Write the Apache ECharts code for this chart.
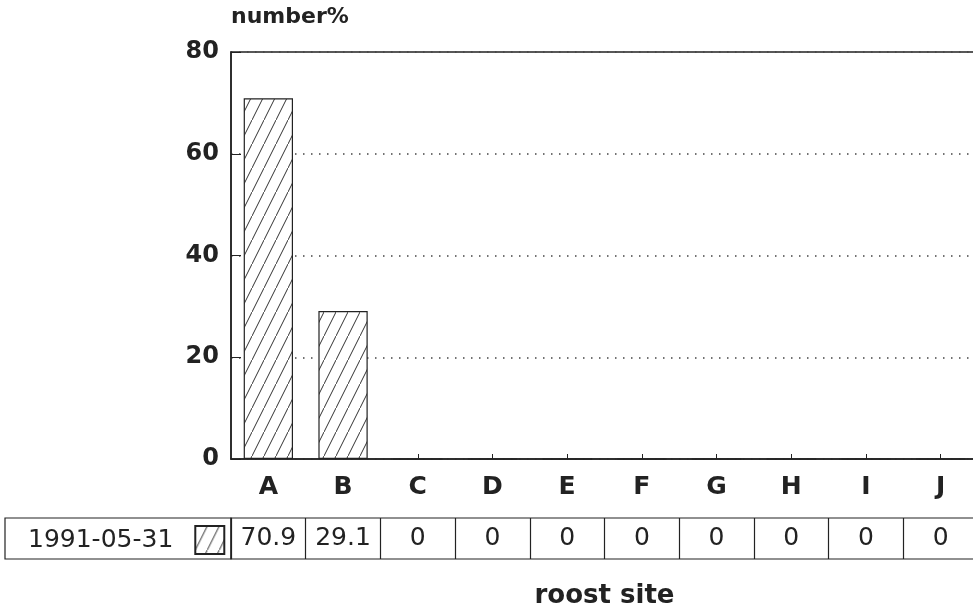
<!DOCTYPE html>
<html>
<head>
<meta charset="utf-8">
<script src="https://cdn.jsdelivr.net/npm/echarts@6/dist/echarts.min.js"></script>
<style>
  html, body { margin: 0; padding: 0; background: #fff; }
  #chart { width: 973px; height: 613px; }
</style>
</head>
<body>
<div id="chart"></div>
<script>
// data
const categories = ['A', 'B', 'C', 'D', 'E', 'F', 'G', 'H', 'I', 'J'];
const seriesName = '1991-05-31';
const values = [70.9, 29.1, 0, 0, 0, 0, 0, 0, 0, 0];
const yTicks = [0, 20, 40, 60, 80];

const ink = '#222';
const font = 'DejaVu Sans';

// diagonal hatch used for bars and legend icon
const makeHatch = () => {
  const c = document.createElement('canvas');
  c.width = 12;
  c.height = 24;
  const ctx = c.getContext('2d');
  ctx.fillStyle = '#fff';
  ctx.fillRect(0, 0, 12, 24);
  ctx.strokeStyle = '#333';
  ctx.lineWidth = 1;
  ctx.beginPath();
  ctx.moveTo(-3, 30);
  ctx.lineTo(15, -6);
  ctx.stroke();
  return c;
};
const hatch = { image: makeHatch(), repeat: 'repeat' };

const chart = echarts.init(document.getElementById('chart'), null, { renderer: 'canvas' });

chart.setOption({
  backgroundColor: '#fff',
  animation: false,
  legend: {
    data: [{ name: seriesName, icon: 'rect' }],
    left: 23,
    top: 520,
    align: 'right',
    itemWidth: 29,
    itemHeight: 28,
    textStyle: { fontFamily: font, fontSize: 25, color: ink, padding: [0, 17, 0, 0] },
  },
  grid: [
    { left: 231, top: 52, width: 747, height: 407, show: true, borderColor: ink, borderWidth: 1.5, outerBoundsMode: 'none', containLabel: false },
    { left: 231, top: 518, width: 747, height: 41, show: true, borderColor: ink, borderWidth: 1.2, outerBoundsMode: 'none', containLabel: false },
  ],
  xAxis: [
    {
      type: 'category',
      gridIndex: 0,
      data: categories,
      axisLine: { lineStyle: { color: ink, width: 1.5 } },
      axisTick: { show: true, alignWithLabel: true, inside: true, length: 5, lineStyle: { color: ink } },
      axisLabel: { fontFamily: font, fontWeight: 'bold', fontSize: 25, color: ink, margin: 16 },
      name: 'roost site',
      nameLocation: 'middle',
      nameGap: 124,
      nameTextStyle: { fontFamily: font, fontWeight: 'bold', fontSize: 26, color: ink },
    },
    {
      type: 'category',
      gridIndex: 1,
      data: categories,
      axisLine: { show: false },
      axisTick: { show: false },
      axisLabel: { show: false },
      splitLine: { show: true, lineStyle: { color: ink, width: 1.2 } },
    },
  ],
  yAxis: [
    {
      type: 'value',
      gridIndex: 0,
      min: yTicks[0],
      max: yTicks[yTicks.length - 1],
      interval: yTicks[1] - yTicks[0],
      axisLine: { show: true, lineStyle: { color: ink, width: 1.5 } },
      axisTick: { show: true, inside: true, length: 10, lineStyle: { color: ink } },
      axisLabel: { fontFamily: font, fontWeight: 'bold', fontSize: 24, color: ink, margin: 12 },
      splitLine: { show: true, lineStyle: { color: '#444', width: 1.5, type: [1.5, 6.5] } },
      name: 'number%',
      nameLocation: 'end',
      nameGap: 24,
      nameTextStyle: { fontFamily: font, fontWeight: 'bold', fontSize: 22, color: ink, align: 'left' },
    },
    {
      type: 'value',
      gridIndex: 1,
      min: 0,
      max: 1,
      show: false,
    },
  ],
  series: [
    {
      name: seriesName,
      type: 'bar',
      xAxisIndex: 0,
      yAxisIndex: 0,
      data: values,
      barWidth: '66%',
      itemStyle: { color: hatch, borderColor: ink, borderWidth: 1.2 },
    },
    {
      name: 'table',
      type: 'scatter',
      xAxisIndex: 1,
      yAxisIndex: 1,
      symbolSize: 0,
      itemStyle: { opacity: 1 },
      data: values.map((v, i) => [i, 0.5, v]),
      label: {
        show: true,
        position: 'inside',
        formatter: (p) => String(p.value[2]),
        fontFamily: font,
        fontSize: 25,
        color: ink,
        opacity: 1,
      },
      silent: true,
    },
  ],
  graphic: [
    {
      type: 'rect',
      shape: { x: 5, y: 518, width: 226, height: 41 },
      style: { fill: 'none', stroke: ink, lineWidth: 1.2 },
      z: 10,
    },
  ],
});
</script>
</body>
</html>
